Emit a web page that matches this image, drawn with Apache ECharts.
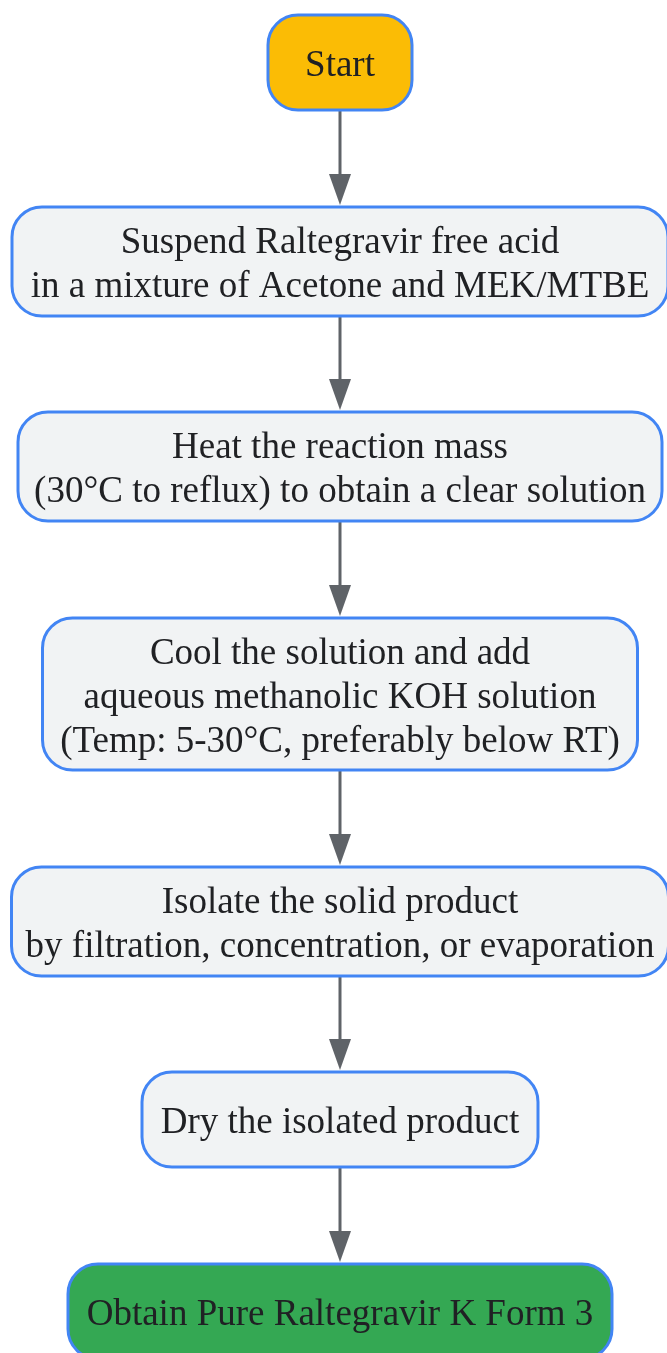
<!DOCTYPE html>
<html>
<head>
<meta charset="utf-8">
<script src="https://cdn.jsdelivr.net/npm/echarts@6/dist/echarts.min.js"></script>
<style>
html,body{margin:0;padding:0;background:#fff;}
#chart{width:667px;height:1353px;}
</style>
</head>
<body>
<div id="chart"></div>
<script>
// ---- data ----
const nodeLabels = [
  'Start',
  'Suspend Raltegravir free acid\nin a mixture of Acetone and MEK/MTBE',
  'Heat the reaction mass\n(30°C to reflux) to obtain a clear solution',
  'Cool the solution and add\naqueous methanolic KOH solution\n(Temp: 5-30°C, preferably below RT)',
  'Isolate the solid product\nby filtration, concentration, or evaporation',
  'Dry the isolated product',
  'Obtain Pure Raltegravir K Form 3'
];
const nodeKinds = ['start', 'step', 'step', 'step', 'step', 'step', 'end'];
const edgesFrom = [0, 1, 2, 3, 4, 5];
const edgesTo = [1, 2, 3, 4, 5, 6];

// ---- layout / style (not data) ----
const layoutCY = [62.5, 261.5, 466.5, 694, 921.5, 1119.5, 1311.5];
const layoutW = [144, 656, 644, 595, 657, 396, 544];
const layoutH = [95, 109, 109, 152, 109, 95, 95];
const CX = 340;
const TEXT_SHIFT = 4;
const kindFill = { start: '#FBBC05', step: '#F1F3F4', end: '#34A853' };
const FONT = '"Liberation Serif", "Times New Roman", serif';

const chart = echarts.init(document.getElementById('chart'), null, { renderer: 'canvas' });

const nodeData = nodeLabels.map((t, i) => [CX, layoutCY[i], i]);
const edgeData = edgesFrom.map((f, i) => [f, edgesTo[i]]);

chart.setOption({
  animation: false,
  backgroundColor: '#ffffff',
  grid: { left: 0, right: 0, top: 0, bottom: 0 },
  xAxis: { type: 'value', min: 0, max: 667, show: false },
  yAxis: { type: 'value', min: 0, max: 1353, inverse: true, show: false },
  series: [
    {
      type: 'custom',
      coordinateSystem: 'cartesian2d',
      data: edgeData,
      silent: true,
      renderItem: function (params, api) {
        const f = api.value(0), t = api.value(1);
        const p1 = api.coord([CX, layoutCY[f] + layoutH[f] / 2]);
        const p2 = api.coord([CX, layoutCY[t] - layoutH[t] / 2]);
        const tipY = p2[1] - 2;
        const headLen = 31, headHalf = 11;
        return {
          type: 'group',
          children: [
            {
              type: 'line',
              shape: { x1: p1[0], y1: p1[1], x2: p1[0], y2: tipY - headLen + 2 },
              style: { stroke: '#5F6368', lineWidth: 3 }
            },
            {
              type: 'polygon',
              shape: { points: [[p1[0] - headHalf, tipY - headLen], [p1[0] + headHalf, tipY - headLen], [p1[0], tipY]] },
              style: { fill: '#5F6368' }
            }
          ]
        };
      }
    },
    {
      type: 'custom',
      coordinateSystem: 'cartesian2d',
      data: nodeData,
      silent: true,
      renderItem: function (params, api) {
        const i = api.value(2);
        const c = api.coord([api.value(0), api.value(1)]);
        const w = layoutW[i], h = layoutH[i];
        return {
          type: 'group',
          children: [
            {
              type: 'rect',
              shape: { x: c[0] - w / 2, y: c[1] - h / 2, width: w, height: h, r: 30 },
              style: { fill: kindFill[nodeKinds[i]], stroke: '#4285F4', lineWidth: 3 }
            },
            {
              type: 'text',
              x: c[0], y: c[1] + TEXT_SHIFT,
              style: {
                text: nodeLabels[i],
                fill: '#202124',
                font: '37px ' + FONT,
                lineHeight: 44,
                align: 'center',
                verticalAlign: 'middle'
              }
            }
          ]
        };
      }
    }
  ]
});
</script>
</body>
</html>
